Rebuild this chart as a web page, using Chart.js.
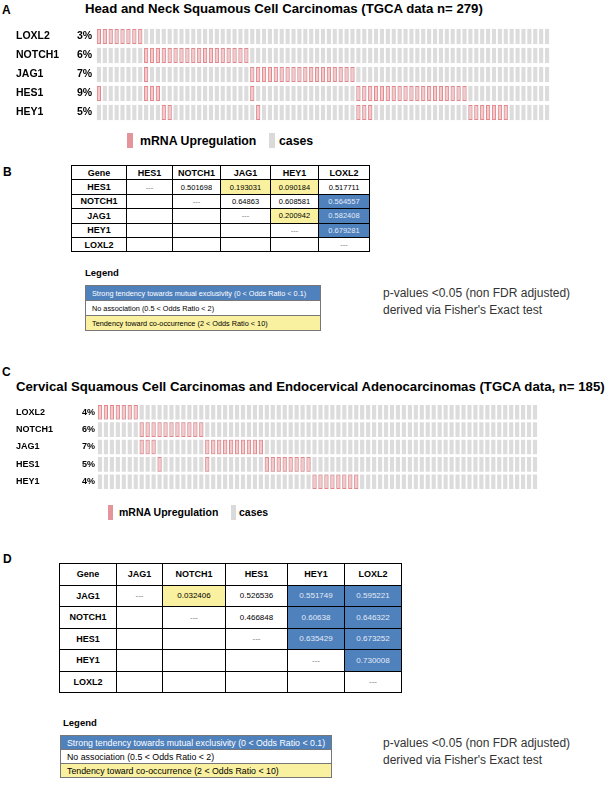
<!DOCTYPE html>
<html>
<head>
<meta charset="utf-8">
<script src="https://cdn.jsdelivr.net/npm/chart.js@4.4.0/dist/chart.umd.min.js"></script>
<style>
body{margin:0;width:611px;height:796px;position:relative;background:#fff;font-family:Arial,"Liberation Sans",Helvetica,sans-serif;color:#000;overflow:hidden}
.abs{position:absolute;white-space:nowrap}
.panel{font-weight:bold;font-size:12px}
.title{font-weight:bold;font-size:13.2px}
.sw{position:absolute}
table.gt{position:absolute;border-collapse:collapse;table-layout:fixed;border:1.5px solid #000}
table.gt td{border:1px solid #000;text-align:center;padding:0;overflow:hidden;white-space:nowrap}
table.gt td.h{font-weight:bold}
table.lg{position:absolute;border-collapse:collapse;table-layout:fixed;border:1px solid #555}
table.lg td{border:1px solid #777;padding:0 0 0 6px;white-space:nowrap}
.pv{position:absolute;font-size:12px;line-height:17px;color:#333;white-space:nowrap}
canvas{position:absolute;left:0}
</style>
</head>
<body>

<div class="abs panel" style="left:2px;top:3px">A</div>
<div class="abs title" style="left:85px;top:1px;line-height:15px">Head and Neck Squamous Cell Carcinomas (TGCA data n= 279)</div>
<canvas id="oncoA" width="611" height="130" style="top:0"></canvas>
<div class="sw" style="left:127px;top:133px;width:6px;height:15px;background:#e3959b"></div>
<div class="abs" style="left:140px;top:133px;line-height:16px;font-size:12.3px;font-weight:bold">mRNA Upregulation</div>
<div class="sw" style="left:269px;top:133px;width:6px;height:15px;background:#dadada"></div>
<div class="abs" style="left:279px;top:133px;line-height:16px;font-size:12.3px;font-weight:bold">cases</div>

<div class="abs panel" style="left:3px;top:165px">B</div>
<table class="gt" id="tabB" style="left:71px;top:165px"></table>
<div class="abs" style="left:85px;top:267px;font-size:9.5px;font-weight:bold">Legend</div>
<table class="lg" id="legB" style="left:85px;top:285px;width:236px;font-size:7.3px"></table>
<div class="pv" style="left:383px;top:285px">p-values &lt;0.05 (non FDR adjusted)<br>derived via Fisher's Exact test</div>

<div class="abs panel" style="left:2px;top:365px">C</div>
<div class="abs title" style="left:16px;top:379px;line-height:15px">Cervical Squamous Cell Carcinomas and Endocervical Adenocarcinomas (TGCA data, n= 185)</div>
<canvas id="oncoC" width="611" height="100" style="top:395px"></canvas>
<div class="sw" style="left:108px;top:505px;width:5px;height:15px;background:#e3959b"></div>
<div class="abs" style="left:119px;top:505px;line-height:14px;font-size:10.5px;font-weight:bold">mRNA Upregulation</div>
<div class="sw" style="left:231px;top:505px;width:5px;height:15px;background:#dadada"></div>
<div class="abs" style="left:239px;top:505px;line-height:14px;font-size:10.5px;font-weight:bold">cases</div>

<div class="abs panel" style="left:3px;top:552px">D</div>
<table class="gt" id="tabD" style="left:59px;top:563px"></table>
<div class="abs" style="left:63px;top:717px;font-size:9.5px;font-weight:bold">Legend</div>
<table class="lg" id="legD" style="left:60px;top:735px;width:272px;font-size:8.8px"></table>
<div class="pv" style="left:383px;top:735px">p-values &lt;0.05 (non FDR adjusted)<br>derived via Fisher's Exact test</div>

<script>
// ---- panel A : head and neck (n = 279) ----
var genesA = ['LOXL2', 'NOTCH1', 'JAG1', 'HES1', 'HEY1'];
var pctA = ['3%', '6%', '7%', '9%', '5%'];
var nCasesA = 77;
// column index of every case with mRNA upregulation, one list per gene
var loxl2A = [0, 1, 2, 3, 4, 5, 6, 7];
var notch1A = [8, 9, 10, 11, 12, 13, 14, 15, 16, 17, 18, 19, 20, 21, 22, 23, 24, 25];
var jag1A = [8, 26, 27, 28, 29, 30, 31, 32, 33, 34, 35, 36, 37, 38, 39, 40, 41, 42, 43];
var hes1A = [0, 8, 9, 10, 26, 44, 45, 46, 47, 48, 49, 50, 51, 52, 53, 54, 55, 56, 57, 58, 59, 60, 61, 62];
var hey1A = [11, 12, 27, 44, 45, 46, 63, 64, 65, 66, 67, 68, 69];

// ---- panel C : cervical (n = 185) ----
var genesC = ['LOXL2', 'NOTCH1', 'JAG1', 'HES1', 'HEY1'];
var pctC = ['4%', '6%', '7%', '5%', '4%'];
var nCasesC = 74;
var loxl2C = [0, 1, 2, 3, 4, 5, 6];
var notch1C = [7, 8, 9, 10, 11, 12, 13, 14, 15, 16, 17];
var jag1C = [7, 8, 9, 18, 19, 20, 21, 22, 23, 24, 25, 26, 27];
var hes1C = [10, 18, 28, 29, 30, 31, 32, 33, 34, 35];
var hey1C = [36, 37, 38, 39, 40, 41, 42, 43];

// ---- panel B table (p-values) ----
var genesB = ['HES1', 'NOTCH1', 'JAG1', 'HEY1', 'LOXL2'];
var pvalB = [
  ['---', '0.501698', '0.193031', '0.090184', '0.517711'],
  ['', '---', '0.64863', '0.608581', '0.564557'],
  ['', '', '---', '0.200942', '0.582408'],
  ['', '', '', '---', '0.679281'],
  ['', '', '', '', '---']
];
// y = co-occurrence, b = mutual exclusivity
var tendB = [
  ['', '', 'y', 'y', ''],
  ['', '', '', '', 'b'],
  ['', '', '', 'y', 'b'],
  ['', '', '', '', 'b'],
  ['', '', '', '', '']
];

// ---- panel D table (p-values) ----
var genesD = ['JAG1', 'NOTCH1', 'HES1', 'HEY1', 'LOXL2'];
var pvalD = [
  ['---', '0.032406', '0.526536', '0.551749', '0.595221'],
  ['', '---', '0.466848', '0.60638', '0.646322'],
  ['', '', '---', '0.635429', '0.673252'],
  ['', '', '', '---', '0.730008'],
  ['', '', '', '', '---']
];
var tendD = [
  ['', 'y', '', 'b', 'b'],
  ['', '', '', 'b', 'b'],
  ['', '', '', 'b', 'b'],
  ['', '', '', '', 'b'],
  ['', '', '', '', '']
];

var legendText = [
  'Strong tendency towards mutual exclusivity (0 < Odds Ratio < 0.1)',
  'No association (0.5 < Odds Ratio < 2)',
  'Tendency toward co-occurrence (2 < Odds Ratio < 10)'
];

var BLUE = '#4f81bd', YELLOW = '#f9f19f';
var RED_FILL = '#f3c9cb', RED_LINE = '#e4878d', GREY = '#dcdcdc';

var rowLabels = {
  id: 'rowLabels',
  afterDraw: function (chart, args, o) {
    var ctx = chart.ctx, y = chart.scales.y;
    ctx.save();
    ctx.font = o.font;
    ctx.fillStyle = '#000';
    ctx.textBaseline = 'middle';
    o.genes.forEach(function (g, r) {
      var py = y.getPixelForValue(r + 0.5);
      ctx.fillText(g, o.geneX, py);
      ctx.fillText(o.pcts[r], o.pctX, py);
    });
    ctx.restore();
  }
};

function oncoprint(id, genes, pcts, nCases, altered, pad, gap, font, geneX, pctX) {
  var cases = [];
  for (var i = 0; i < nCases; i++) cases.push('case ' + (i + 1));
  var red = [], grey = [];
  genes.forEach(function (g, r) {
    red.push({
      label: g + ' mRNA Upregulation',
      data: cases.map(function (c, k) { return altered[r].indexOf(k) >= 0 ? [r + gap, r + 1 - gap] : null; }),
      backgroundColor: RED_FILL,
      borderColor: RED_LINE,
      borderWidth: 1,
      borderSkipped: false,
      grouped: false,
      barPercentage: 0.7,
      categoryPercentage: 1
    });
    grey.push({
      label: g + ' cases',
      data: cases.map(function () { return [r + gap, r + 1 - gap]; }),
      backgroundColor: GREY,
      borderWidth: 0,
      grouped: false,
      barPercentage: 0.7,
      categoryPercentage: 1
    });
  });
  return new Chart(document.getElementById(id), {
    type: 'bar',
    data: { labels: cases, datasets: red.concat(grey) },
    options: {
      responsive: false,
      animation: false,
      layout: { padding: pad },
      scales: {
        x: { type: 'category', display: false, offset: true },
        y: { type: 'linear', min: 0, max: genes.length, reverse: true, display: false }
      },
      plugins: {
        legend: { display: false },
        tooltip: { enabled: false },
        rowLabels: { genes: genes, pcts: pcts, font: font, geneX: geneX, pctX: pctX }
      }
    },
    plugins: [rowLabels]
  });
}

oncoprint('oncoA', genesA, pctA, nCasesA, [loxl2A, notch1A, jag1A, hes1A, hey1A],
  { left: 96, right: 611 - 550, top: 27, bottom: 8 }, 0.1,
  'bold 10.5px Arial, "Liberation Sans", sans-serif', 16, 77);

oncoprint('oncoC', genesC, pctC, nCasesC, [loxl2C, notch1C, jag1C, hes1C, hey1C],
  { left: 97, right: 611 - 538, top: 8.5, bottom: 4.5 }, 0.08,
  'bold 9px Arial, "Liberation Sans", sans-serif', 16, 82);

function buildTable(id, genes, vals, tend, colW, rowH, hFont, vFont) {
  var t = document.getElementById(id);
  var cg = document.createElement('colgroup');
  colW.forEach(function (w) { var c = document.createElement('col'); c.style.width = w + 'px'; cg.appendChild(c); });
  t.appendChild(cg);
  var tr = document.createElement('tr');
  ['Gene'].concat(genes).forEach(function (g) {
    var td = document.createElement('td');
    td.className = 'h'; td.textContent = g; td.style.fontSize = hFont; td.style.height = rowH + 'px';
    tr.appendChild(td);
  });
  t.appendChild(tr);
  genes.forEach(function (g, r) {
    var row = document.createElement('tr');
    var th = document.createElement('td');
    th.className = 'h'; th.textContent = g; th.style.fontSize = hFont; th.style.height = rowH + 'px';
    row.appendChild(th);
    vals[r].forEach(function (v, c) {
      var td = document.createElement('td');
      td.textContent = v;
      td.style.fontSize = vFont;
      if (tend[r][c] === 'b') { td.style.background = BLUE; td.style.color = '#e4ebf5'; }
      else if (tend[r][c] === 'y') { td.style.background = YELLOW; }
      if (v === '---') td.style.color = '#777';
      row.appendChild(td);
    });
    t.appendChild(row);
  });
  var w = colW.reduce(function (a, b) { return a + b; }, 0);
  t.style.width = w + 'px';
}

function buildLegend(id, rowH) {
  var t = document.getElementById(id);
  var bg = [BLUE, '#fff', YELLOW];
  legendText.forEach(function (s, i) {
    var tr = document.createElement('tr');
    var td = document.createElement('td');
    td.textContent = s;
    td.style.height = rowH + 'px';
    td.style.background = bg[i];
    if (i === 0) td.style.color = '#fff';
    tr.appendChild(td);
    t.appendChild(tr);
  });
}

buildTable('tabB', genesB, pvalB, tendB, [55, 46, 48, 50, 48, 51], 13.4, '9px', '7.5px');
buildTable('tabD', genesD, pvalD, tendD, [57, 46, 63, 62, 57, 57], 20.5, '9px', '8px');
buildLegend('legB', 14);
buildLegend('legD', 13);
</script>
</body>
</html>
